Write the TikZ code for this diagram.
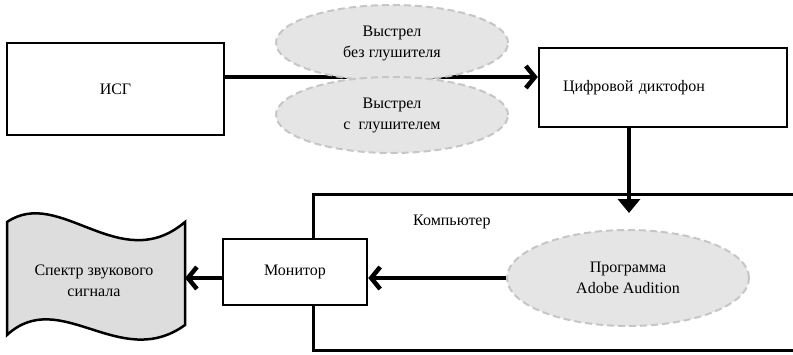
\documentclass[tikz,border=0pt]{standalone}
\usepackage{fontspec}
\setmainfont{Liberation Serif}
\usetikzlibrary{shapes.geometric,arrows.meta,positioning}
\tikzset{
	blok/.style={draw,line width=2.5pt,fill=white,inner sep=0pt},
	oval/.style={ellipse,draw=gray!45,dash pattern=on 7pt off 4pt,line width=2pt,fill=gray!20,inner sep=0pt,align=center},
	strelka/.style={line width=4.5pt,-{Straight Barb[length=9pt,width=22pt]}},
	strelkav/.style={line width=4.5pt,-{Triangle[length=14pt,width=22pt]}}
}
\begin{document}
\begin{tikzpicture}[x=1pt,y=-1pt,font=\fontsize{16}{21}\selectfont]
			\useasboundingbox (0,0) rectangle (793,354);
			\node[blok,minimum width=217pt,minimum height=92pt] (isg) at (115.5,89) {ИСГ};
			\node[blok,minimum width=248pt,minimum height=79pt,text width=200pt,align=left] (rec) at (663,87.5) {Цифровой диктофон};
			\coordinate (shot) at (392,77);
			\draw[strelka] (isg.east |- shot) -- (rec.west |- shot);
			\node[oval,minimum width=232pt,minimum height=76pt] (pa) at (392,43) {Выстрел\\без глушителя};
			\node[oval,minimum width=232pt,minimum height=76pt] (pb) at (392,115) {Выстрел\\с\ \ глушителем};
			\node[blok,minimum width=520pt,minimum height=156pt,anchor=north west] (pc) at (312,193) {};
			\node[anchor=west,inner sep=0pt] (pclabel) at (413,222) {Компьютер};
			\coordinate (pcin) at (629,213);
			\draw[strelkav] (rec.south -| pcin) -- (pcin);
			\node[blok,minimum width=144pt,minimum height=66pt] (mon) at (295,272) {Монитор};
			\node[oval,minimum width=242pt,minimum height=96pt] (prog) at (628,278) {Программа\\Adobe Audition};
			\filldraw[line width=2.5pt,fill=gray!27] (7,222) .. controls (60,186) and (120,277) .. (185,222) -- (185,325) .. controls (120,372) and (60,286) .. (7,335) -- cycle;
			\coordinate (spec) at (185,278);
			\node[align=center] (spectext) at (94,281) {Спектр звукового\\сигнала};
			\draw[strelka] (prog.west) -- (mon.east |- prog.west);
			\draw[strelka] (mon.west |- spec) -- (spec);
		\end{tikzpicture}
\end{document}
